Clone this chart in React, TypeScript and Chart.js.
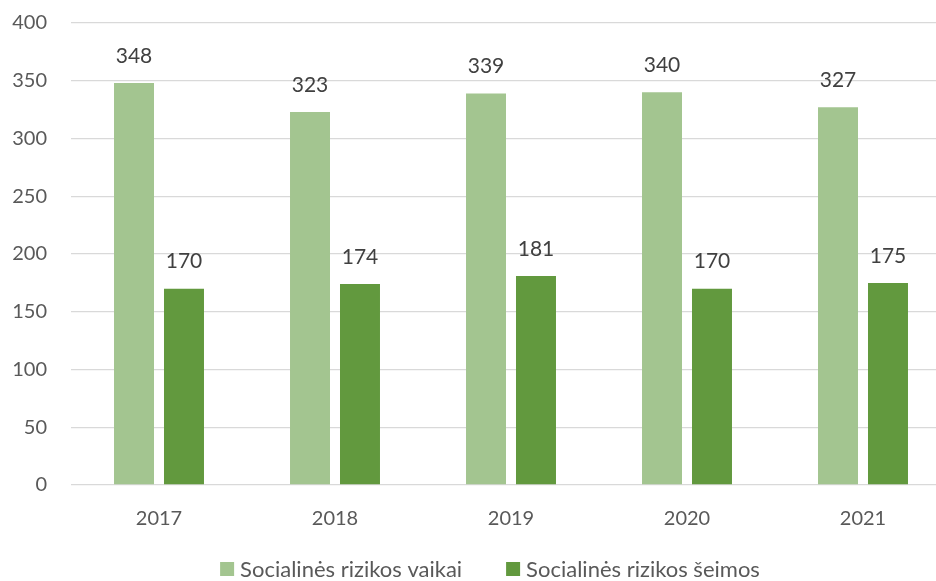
import React, { useEffect, useRef } from "react";
import { Chart, registerables } from "chart.js";

Chart.register(...registerables);

const years = ["2017", "2018", "2019", "2020", "2021"];
const vaikai = [348, 323, 339, 340, 327];
const seimos = [170, 174, 181, 170, 175];
const seriesNames = ["Socialinės rizikos vaikai", "Socialinės rizikos šeimos"];
const seriesColors = ["#A3C590", "#62993E"];
const yTicks = [0, 50, 100, 150, 200, 250, 300, 350, 400];

const FONT = "Lato, 'Open Sans', sans-serif";

const dataLabels = {
  id: "dataLabels",
  afterDatasetsDraw(chart: any) {
    const ctx = chart.ctx;
    ctx.save();
    ctx.font = `21px ${FONT}`;
    ctx.fillStyle = "#404040";
    ctx.textAlign = "center";
    ctx.textBaseline = "middle";
    chart.data.datasets.forEach((ds: any, i: number) => {
      const meta = chart.getDatasetMeta(i);
      meta.data.forEach((el: any, j: number) => {
        ctx.fillText(String(ds.data[j]), el.x, el.y - 27);
      });
    });
    ctx.restore();
  },
};

const bottomLegend = {
  id: "bottomLegend",
  afterDraw(chart: any) {
    const ctx = chart.ctx;
    ctx.save();
    ctx.font = `22px ${FONT}`;
    ctx.textBaseline = "middle";
    ctx.textAlign = "left";
    const box = 14;
    const gap = 6;
    const between = 44;
    const items = chart.data.datasets.map((ds: any) => ({
      text: ds.label,
      color: ds.backgroundColor,
      w: ctx.measureText(ds.label).width,
    }));
    const total =
      items.reduce((s: number, it: any) => s + box + gap + it.w, 0) +
      between * (items.length - 1);
    let x = 490 - total / 2;
    const y = chart.chartArea.bottom + 84;
    items.forEach((it: any) => {
      ctx.fillStyle = it.color;
      ctx.fillRect(x, y - box / 2, box, box);
      ctx.fillStyle = "#595959";
      ctx.fillText(it.text, x + box + gap, y + 1);
      x += box + gap + it.w + between;
    });
    ctx.restore();
  },
};

export default function App() {
  const ref = useRef<HTMLCanvasElement>(null);
  useEffect(() => {
    if (!ref.current) return;
    const chart = new Chart(ref.current, {
      type: "bar",
      data: {
        labels: years,
        datasets: [
          {
            label: seriesNames[0],
            data: vaikai,
            backgroundColor: seriesColors[0],
            categoryPercentage: 0.568,
            barPercentage: 0.8,
          },
          {
            label: seriesNames[1],
            data: seimos,
            backgroundColor: seriesColors[1],
            categoryPercentage: 0.568,
            barPercentage: 0.8,
          },
        ],
      },
      options: {
        animation: false,
        responsive: false,
        devicePixelRatio: 1,
        layout: { padding: { left: 0, right: 29, top: 9, bottom: 50 } },
        plugins: {
          legend: { display: false },
          tooltip: { enabled: false },
        },
        scales: {
          x: {
            grid: { display: false },
            border: { display: false },
            ticks: {
              color: "#595959",
              font: { family: FONT, size: 20 },
              padding: 14,
            },
            afterFit: (s: any) => {
              s.height = 46;
            },
          },
          y: {
            min: 0,
            max: 400,
            afterBuildTicks: (s: any) => {
              s.ticks = yTicks.map((v) => ({ value: v }));
            },
            grid: { color: "#D9D9D9", lineWidth: 1.3, drawTicks: false },
            border: { display: false },
            ticks: {
              color: "#595959",
              font: { family: FONT, size: 20 },
              padding: 24,
            },
            afterFit: (s: any) => {
              s.width = 71;
            },
          },
        },
      },
      plugins: [dataLabels, bottomLegend],
    });
    return () => chart.destroy();
  }, []);
  return (
    <div
      style={{
        position: "absolute",
        left: 0,
        top: 0,
        width: 936,
        height: 581,
        overflow: "hidden",
        background: "#fff",
      }}
    >
      <canvas
        ref={ref}
        width={980}
        height={594}
        style={{ display: "block", marginTop: -13 }}
      />
    </div>
  );
}
